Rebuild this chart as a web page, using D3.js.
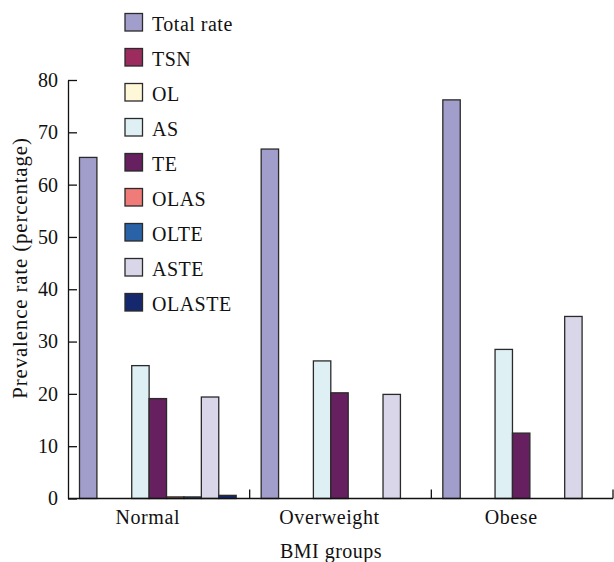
<!DOCTYPE html>
<html>
<head>
<meta charset="utf-8">
<script src="https://cdn.jsdelivr.net/npm/d3@7"></script>
<style>
  html, body { margin: 0; padding: 0; background: #fff; }
  svg text { font-family: "Liberation Serif", "Tinos", "Times New Roman", "DejaVu Serif", serif !important; fill: #111; }
</style>
</head>
<body>
<svg id="chart" width="614" height="562"></svg>
<script>
const categories = ["Normal", "Overweight", "Obese"];
const seriesNames = ["Total rate", "TSN", "OL", "AS", "TE", "OLAS", "OLTE", "ASTE", "OLASTE"];
const seriesColors = ["#a19ecb", "#9c2b5e", "#fff8d8", "#dff0f5", "#661f5f", "#f07c7a", "#2a62a8", "#d9d6e9", "#15286d"];
const totalRate = [65.2, 66.8, 76.2];
const tsn = [0, 0, 0];
const ol = [0, 0, 0];
const as = [25.4, 26.3, 28.5];
const te = [19.1, 20.2, 12.5];
const olas = [0.3, 0, 0];
const olte = [0.3, 0, 0];
const aste = [19.4, 19.9, 34.8];
const olaste = [0.6, 0, 0];
const yTicks = [0, 10, 20, 30, 40, 50, 60, 70, 80];

const seriesValues = [totalRate, tsn, ol, as, te, olas, olte, aste, olaste];

const svg = d3.select("#chart");
const mLeft = 68, mRight = 613, mTop = 80, mBottom = 498.5;

const y = d3.scaleLinear().domain([0, 80]).range([mBottom, mTop]);
const x0 = d3.scaleBand().domain(categories).range([mLeft, mRight]).padding(0);
const x1 = d3.scaleBand().domain(seriesNames).range([11.5, x0.bandwidth() - 13.5]).padding(0);

// bars
const data = [];
categories.forEach((c, ci) => {
  seriesNames.forEach((s, si) => {
    data.push({ cat: c, series: s, value: seriesValues[si][ci], color: seriesColors[si] });
  });
});

svg.append("g").selectAll("rect")
  .data(data.filter(d => d.value > 0))
  .join("rect")
  .attr("x", d => x0(d.cat) + x1(d.series))
  .attr("y", d => y(d.value))
  .attr("width", x1.bandwidth())
  .attr("height", d => y(0) - y(d.value))
  .attr("fill", d => d.color)
  .attr("stroke", "#2a2a2a")
  .attr("stroke-width", 1.3);

// y axis
const yAxis = d3.axisLeft(y).tickValues(yTicks).tickSize(-9).tickPadding(10).tickSizeOuter(0);
const gy = svg.append("g").attr("transform", `translate(${mLeft},0)`).call(yAxis)
  .attr("font-family", null).attr("font-size", null);
gy.select(".domain").attr("stroke", "#111").attr("stroke-width", 1.3);
gy.selectAll(".tick line").attr("stroke", "#111").attr("stroke-width", 1.3);
gy.selectAll(".tick text").style("font-size", "20px").attr("fill", "#111");

// x axis
svg.append("line").attr("x1", mLeft).attr("x2", mRight).attr("y1", mBottom).attr("y2", mBottom)
  .attr("stroke", "#111").attr("stroke-width", 1.3);
const boundaries = categories.map(c => x0(c) + x0.bandwidth());
svg.append("g").selectAll("line").data(boundaries).join("line")
  .attr("x1", d => d).attr("x2", d => d)
  .attr("y1", mBottom).attr("y2", mBottom - 9)
  .attr("stroke", "#111").attr("stroke-width", 1.3);
svg.append("g").selectAll("text").data(categories).join("text")
  .attr("x", d => x0(d) + x0.bandwidth() / 2 - 11)
  .attr("y", 524)
  .attr("text-anchor", "middle")
  .style("font-size", "20px")
  .style("letter-spacing", "0.6px")
  .text(d => d);

// axis titles
svg.append("text")
  .attr("x", 331).attr("y", 558)
  .attr("text-anchor", "middle")
  .style("font-size", "20px")
  .style("letter-spacing", "0.5px")
  .text("BMI groups");
svg.append("text")
  .attr("transform", "translate(27,268) rotate(-90)")
  .attr("text-anchor", "middle")
  .style("font-size", "21px")
  .style("letter-spacing", "0.8px")
  .text("Prevalence rate (percentage)");

// legend
const legend = svg.append("g").selectAll("g").data(seriesNames).join("g")
  .attr("transform", (d, i) => `translate(125,${13.5 + i * 35})`);
legend.append("rect")
  .attr("width", 17.5).attr("height", 17.5)
  .attr("fill", (d, i) => seriesColors[i])
  .attr("stroke", "#2a2a2a").attr("stroke-width", 1.3);
legend.append("text")
  .attr("x", 27).attr("y", 17)
  .style("font-size", "20px")
  .style("letter-spacing", "0.5px")
  .text(d => d);
</script>
</body>
</html>
